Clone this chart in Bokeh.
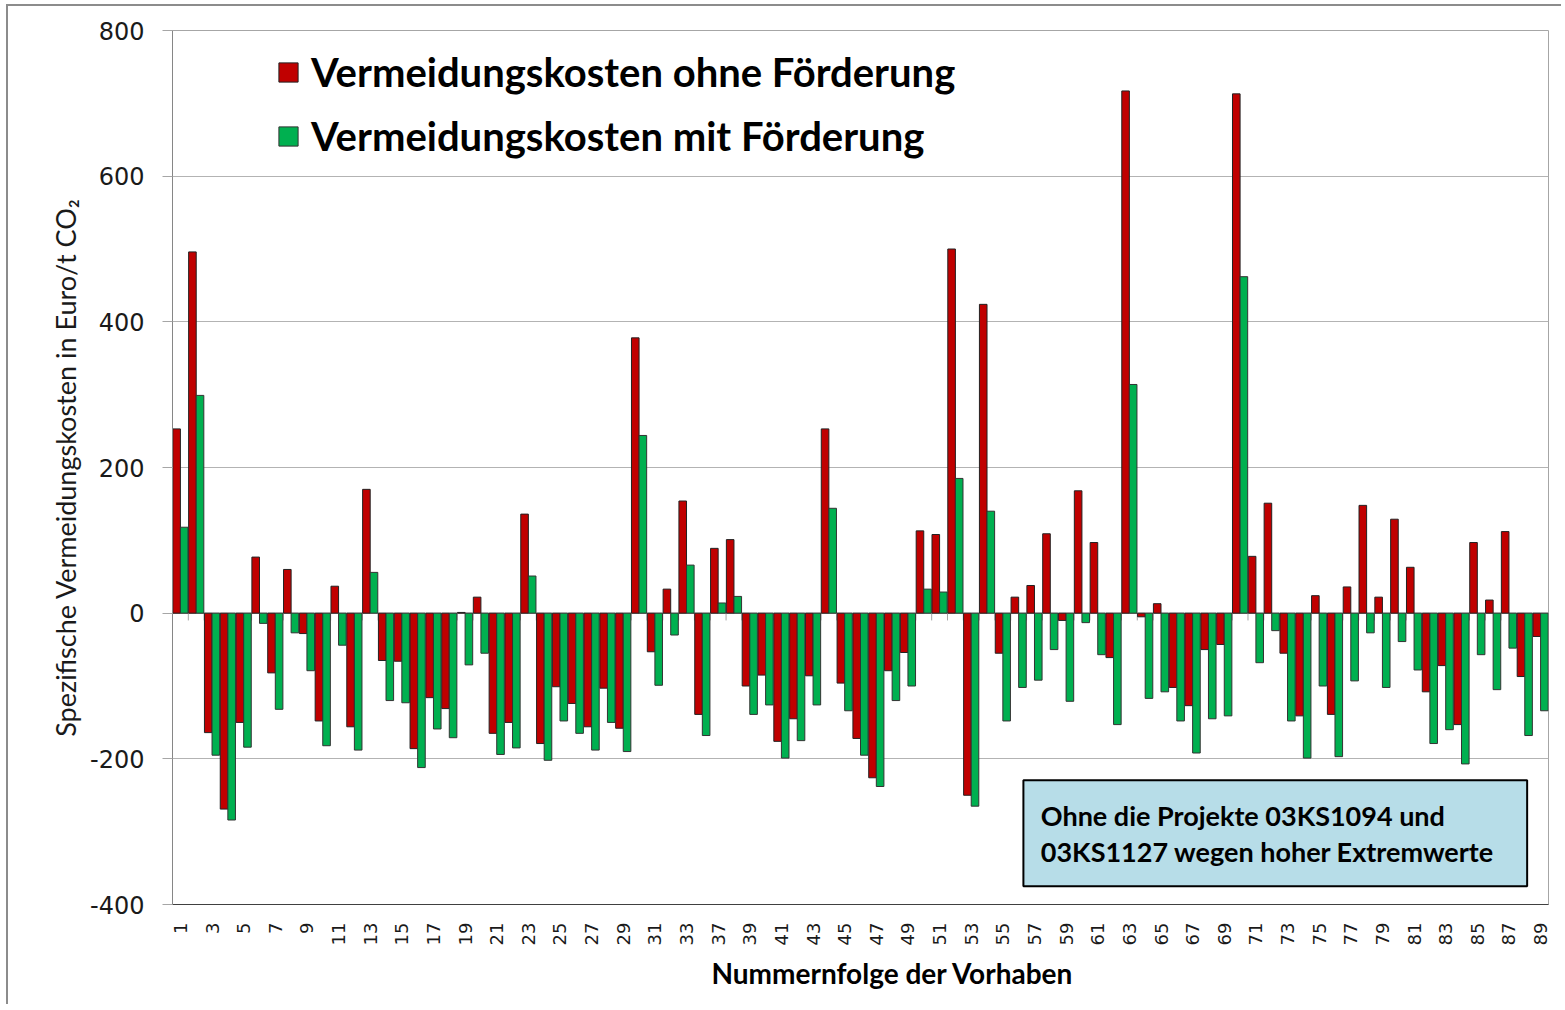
import math
from bokeh.plotting import figure
from bokeh.models import (ColumnDataSource, Range1d, FixedTicker, Legend, LegendItem,
                          BoxAnnotation, Label, Title, Span)
from bokeh.transform import dodge
from bokeh.embed import file_html
from bokeh.resources import INLINE

categories = ["1", "2", "3", "4", "5", "6", "7", "8", "9", "10",
              "11", "12", "13", "14", "15", "16", "17", "18", "19", "20",
              "21", "22", "23", "24", "25", "26", "27", "28", "29", "30",
              "31", "32", "33", "36", "37", "38", "39", "40", "41", "42",
              "43", "44", "45", "46", "47", "48", "49", "50", "51", "52",
              "53", "54", "55", "56", "57", "58", "59", "60", "61", "62",
              "63", "64", "65", "66", "67", "68", "69", "70", "71", "72",
              "73", "74", "75", "76", "77", "78", "79", "80", "81", "82",
              "83", "84", "85", "86", "87", "88", "89"]

ohne_foerderung = [253, 496, -164, -269, -150, 77, -82, 60, -28, -148,
                   37, -156, 170, -65, -66, -186, -116, -131, 1, 22,
                   -165, -150, 136, -179, -101, -124, -156, -103, -158, 378,
                   -53, 33, 154, -139, 89, 101, -100, -85, -176, -145,
                   -86, 253, -96, -172, -226, -79, -54, 113, 108, 500,
                   -250, 424, -55, 22, 38, 109, -10, 168, 97, -61,
                   717, -5, 13, -102, -127, -50, -43, 713, 78, 151,
                   -55, -141, 24, -139, 36, 148, 22, 129, 63, -108,
                   -72, -153, 97, 18, 112, -87, -32]

mit_foerderung = [118, 299, -195, -284, -184, -14, -132, -27, -79, -182,
                  -44, -188, 56, -120, -123, -212, -159, -171, -71, -55,
                  -194, -185, 51, -202, -148, -165, -188, -150, -190, 244,
                  -99, -30, 66, -168, 14, 23, -139, -126, -199, -175,
                  -126, 144, -134, -195, -238, -120, -100, 33, 29, 185,
                  -265, 140, -148, -102, -92, -50, -121, -13, -57, -153,
                  314, -117, -108, -148, -192, -145, -141, 462, -68, -24,
                  -148, -199, -100, -197, -93, -27, -102, -39, -78, -179,
                  -160, -207, -57, -105, -48, -168, -134]

y_ticks = [-400, -200, 0, 200, 400, 600, 800]
y_tick_labels = ["-400", "-200", "0", "200", "400", "600", "800"]

series_labels = ["Vermeidungskosten ohne Förderung", "Vermeidungskosten mit Förderung"]
y_title = "Spezifische Vermeidungskosten in Euro/t CO\u2082"
x_title = "Nummernfolge der Vorhaben"
note_lines = ["Ohne die Projekte 03KS1094 und", "03KS1127 wegen hoher Extremwerte"]

RED = "#C00000"
GREEN = "#00B050"

n = len(categories)
idx = list(range(n))
src = ColumnDataSource(dict(x=idx, cat=categories, ohne=ohne_foerderung, mit=mit_foerderung))

p = figure(width=1555, height=1000, output_backend="svg", toolbar_location=None,
           x_range=Range1d(-0.5, n - 0.5), y_range=Range1d(y_ticks[0], y_ticks[-1]),
           min_border_left=164, min_border_right=15, min_border_top=24, min_border_bottom=102)
p.title.visible = False
p.margin = (4, 0, 0, 6)
p.styles = {"border-left": "2px solid #8c8c8c", "border-top": "2px solid #8c8c8c"}

p.outline_line_color = "#a6a6a6"
p.outline_line_width = 1
p.xgrid.visible = False
p.ygrid.grid_line_color = "#b3b3b3"
p.ygrid.grid_line_width = 1

zero = Span(location=0, dimension="width", line_color="#a6a6a6", line_width=1, level="underlay")
p.add_layout(zero)

bounds = [i + 0.5 for i in idx[:-1]]
p.segment(x0=bounds, y0=[0] * len(bounds), x1=bounds, y1=[-10] * len(bounds),
          line_color="#a6a6a6", line_width=1)

r1 = p.vbar(x=dodge("x", -0.24, range=p.x_range), top="ohne", bottom=0, width=0.48,
            source=src, fill_color=RED, line_color="#222222", line_width=1)
r2 = p.vbar(x=dodge("x", 0.24, range=p.x_range), top="mit", bottom=0, width=0.48,
            source=src, fill_color=GREEN, line_color="#333333", line_width=1)

legend = Legend(items=[LegendItem(label=series_labels[0], renderers=[r1]),
                       LegendItem(label=series_labels[1], renderers=[r2])],
                location=(104, 738), padding=0, spacing=4, margin=0,
                label_height=60, glyph_height=24, glyph_width=24, label_standoff=11,
                label_text_font="Lato", label_text_font_style="bold",
                label_text_font_size="40px", label_text_color="#000000",
                background_fill_alpha=0, border_line_alpha=0)
p.add_layout(legend)

# x axis
p.xaxis.ticker = FixedTicker(ticks=idx[::2])
p.xaxis.major_label_overrides = {i: categories[i] for i in idx[::2]}
p.xaxis.major_label_orientation = math.pi / 2
p.xaxis.major_label_text_font = "DejaVu Sans"
p.xaxis.major_label_text_font_size = "18px"
p.xaxis.major_label_text_color = "#1a1a1a"
p.xaxis.major_tick_out = 0
p.xaxis.major_tick_in = 0
p.xaxis.minor_tick_out = 0
p.xaxis.minor_tick_in = 0
p.xaxis.major_label_standoff = 18
p.xaxis.axis_line_color = "#404040"

# y axis
p.yaxis.ticker = FixedTicker(ticks=y_ticks)
p.yaxis.major_label_overrides = dict(zip(y_ticks, y_tick_labels))
p.yaxis.major_label_text_font = "DejaVu Sans"
p.yaxis.major_label_text_font_size = "24px"
p.yaxis.major_label_text_color = "#1a1a1a"
p.yaxis.major_tick_out = 10
p.yaxis.major_tick_in = 0
p.yaxis.minor_tick_out = 0
p.yaxis.minor_tick_in = 0
p.yaxis.major_tick_line_color = "#a6a6a6"
p.yaxis.axis_line_color = "#868686"
p.yaxis.major_label_standoff = 18
p.yaxis.axis_label = y_title
p.yaxis.axis_label_text_font = "Lato"
p.yaxis.axis_label_text_font_style = "normal"
p.yaxis.axis_label_text_font_size = "27px"
p.yaxis.axis_label_text_color = "#1a1a1a"
p.yaxis.axis_label_standoff = 5

xt = Title(text=x_title, align="left", offset=539, text_font="Lato",
           text_font_style="bold", text_font_size="28px", text_color="#000000")
p.add_layout(xt, "below")

# note box
box = BoxAnnotation(left=53.3, right=85.15, top=-229.3, bottom=-374.8,
                    fill_color="#B7DDE8", fill_alpha=1, line_color="#000000",
                    line_width=2, line_alpha=1, line_dash="solid", level="annotation")
p.add_layout(box)
for txt, yy in zip(note_lines, [-278, -327]):
    p.add_layout(Label(x=54.4, y=yy, text=txt, text_baseline="middle", text_align="left",
                       text_font="Lato", text_font_style="bold", text_font_size="27px",
                       text_color="#000000"))

open("out.html", "w").write(file_html(p, INLINE))
